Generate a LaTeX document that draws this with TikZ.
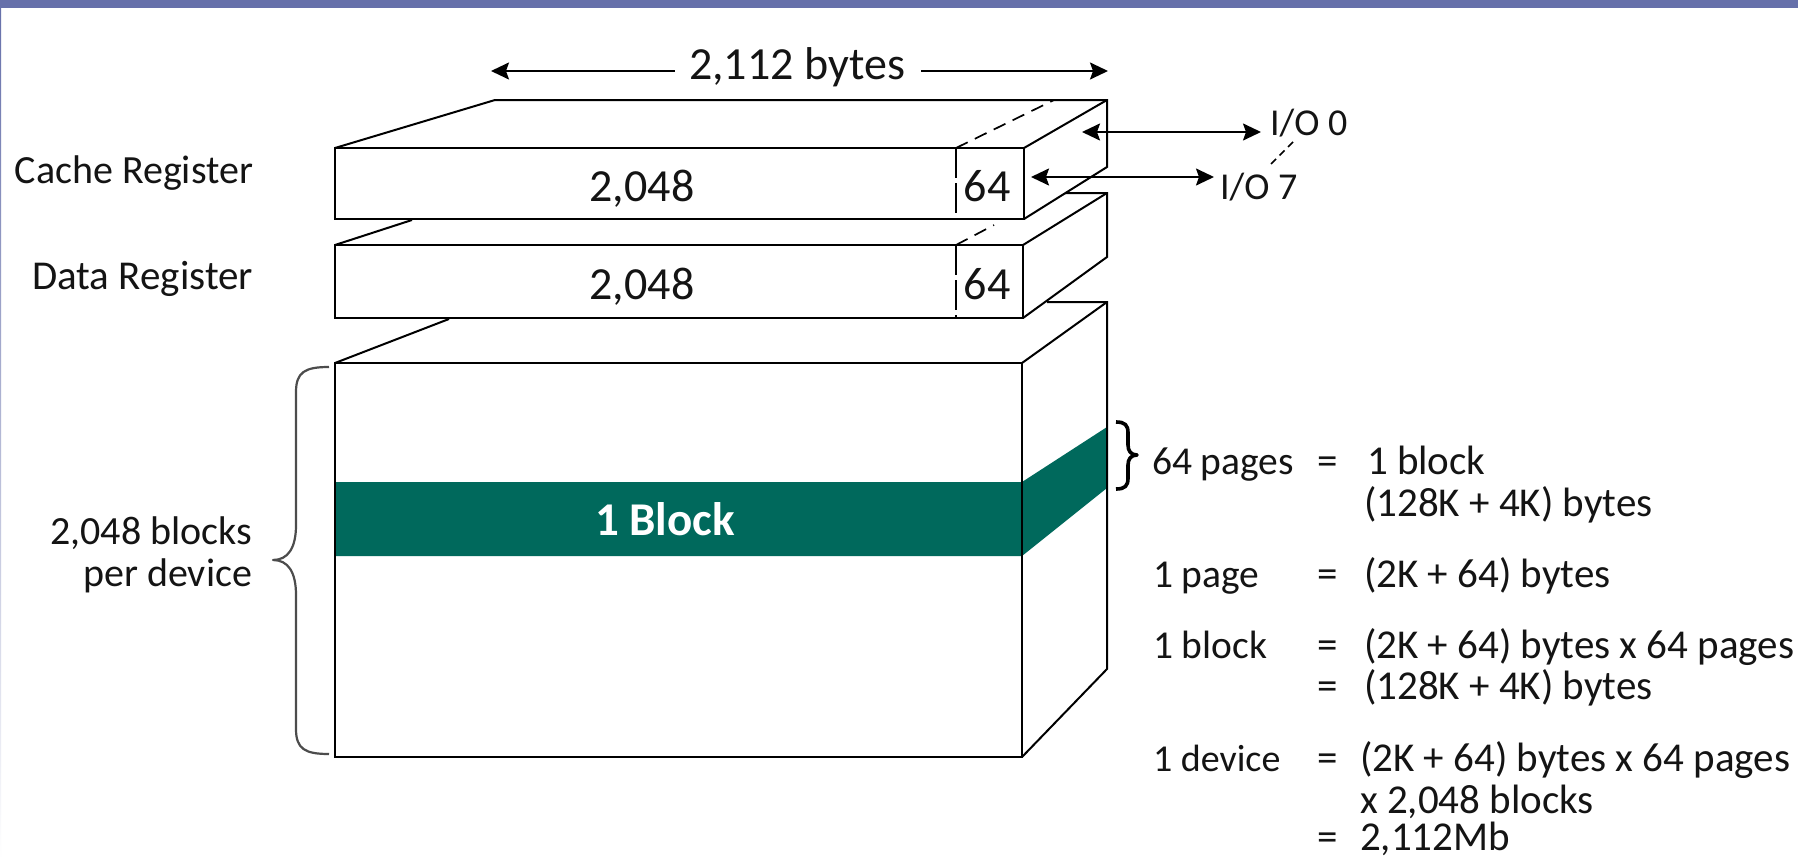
\documentclass[tikz,border=0pt]{standalone}
\usepackage{fontspec}
\setmainfont{Carlito}
\usetikzlibrary{arrows.meta,calc}
\definecolor{barblue}{RGB}{102,112,170}
\definecolor{blockgreen}{RGB}{0,105,92}
\definecolor{inkc}{RGB}{20,20,20}
\tikzset{
  lbl/.style={inner sep=0pt,outer sep=0pt,anchor=base west,text=inkc,font=\fontsize{41}{41}\selectfont},
  term/.style={lbl,font=\fontsize{39.5}{39.5}\selectfont},
  lblr/.style={lbl,anchor=base east,font=\fontsize{40}{40}\selectfont},
  lblc/.style={lbl,anchor=base,font=\fontsize{46}{46}\selectfont},
  iolbl/.style={lbl,font=\fontsize{38}{38}\selectfont},
  edge/.style={draw=black,line width=2pt,line join=miter},
  thin edge/.style={draw=black,line width=1.7pt},
  dash edge/.style={draw=black,line width=1.7pt,dash pattern=on 13pt off 8pt},
  long dash/.style={draw=black,line width=1.5pt,dash pattern=on 30pt off 5pt},
  tipk/.tip={Stealth[length=18pt,width=17pt,inset=3pt]},
  dbl/.style={draw=black,line width=2pt,tipk-tipk}
}
\begin{document}
\begin{tikzpicture}[x=1pt,y=-1pt]
\useasboundingbox (0,0) rectangle (1798,859);
\fill[white] (0,0) rectangle (1798,859);
\fill[barblue] (0,0) rectangle (1798,8);
\shade[top color=barblue,bottom color=white] (0,8) rectangle (1.2,859);

% corner coordinates
\coordinate (cTL) at (335,148); \coordinate (cTR) at (1024,148);
\coordinate (cBL) at (335,219); \coordinate (cBR) at (1024,219);
\coordinate (cBkL) at (495,100); \coordinate (cBkR) at (1107,100);
\coordinate (cSB) at (1107,167);
\coordinate (cDa) at (956,148); \coordinate (cDb) at (956,219); \coordinate (cDc) at (1054,100);

\coordinate (dTL) at (335,245); \coordinate (dTR) at (1023,245);
\coordinate (dBL) at (335,318); \coordinate (dBR) at (1023,318);
\coordinate (dBkL) at (412,220); \coordinate (dBkM) at (1065,193); \coordinate (dBkR) at (1107,193);
\coordinate (dSB) at (1107,257);
\coordinate (dDa) at (956,245); \coordinate (dDb) at (956,318); \coordinate (dDc) at (994,225);

\coordinate (mTL) at (335,363); \coordinate (mTR) at (1022,363);
\coordinate (mBL) at (335,757); \coordinate (mBR) at (1022,757);
\coordinate (mBkL) at (449,319); \coordinate (mBkM) at (1047,302); \coordinate (mBkR) at (1107,302);
\coordinate (mSB) at (1107,669);

\coordinate (gTL) at (335,482); \coordinate (gTR) at (1022,482);
\coordinate (gBL) at (335,556); \coordinate (gBR) at (1022,556);
\coordinate (gBkT) at (1107,427); \coordinate (gBkB) at (1107,488);

% green block
\fill[blockgreen] (gTL) -- (gTR) -- (gBkT) -- (gBkB) -- (gBR) -- (gBL) -- cycle;

% cache register
\draw[edge] (cBL) -- (cTL) -- (cTR) -- (cBR) -- cycle;
\draw[edge] (cTL) -- (cBkL) -- (cBkR) -- (cSB) -- (cBR);
\draw[edge] (cTR) -- (cBkR);
\draw[long dash] (cDa) -- (cDb);
\draw[dash edge] (cDa) -- (cDc);

% data register
\draw[edge] (dBL) -- (dTL) -- (dTR) -- (dBR) -- cycle;
\draw[edge] (dTL) -- (dBkL);
\draw[edge] (dBkM) -- (dBkR) -- (dSB) -- (dBR);
\draw[edge] (dTR) -- (dBkR);
\draw[long dash] (dDa) -- (dDb);
\draw[dash edge] (dDa) -- (dDc);

% memory array
\draw[edge] (mBL) -- (mTL) -- (mTR) -- (mBR) -- cycle;
\draw[edge] (mTL) -- (mBkL);
\draw[edge] (mBkM) -- (mBkR) -- (mSB) -- (mBR);
\draw[edge] (mTR) -- (mBkR);

% labels
\node[lblr] (cacheL) at (253,183) {Cache Register};
\node[lblr,font=\fontsize{41}{41}\selectfont] (dataL) at (253,289) {Data Register};
\node[lblc] (widthL) at (797,79) {2,112 bytes};
\node[lblc] (c2048) at (642,201) {2,048};
\node[lblc] (c64) at (987,201) {64};
\node[lblc] (d2048) at (642,299) {2,048};
\node[lblc] (d64) at (987,299) {64};
\node[iolbl] (ioA) at (1270,135) {I/O 0};
\node[iolbl] (ioB) at (1220,199) {I/O 7};
\node[lblc,text=white,font=\fontsize{47}{47}\selectfont\bfseries] (blk) at (665,535) {1 Block};
\node[lblr] (blocksA) at (252,544) {2,048 blocks};
\node[lblr] (blocksB) at (252,586) {per device};

\node[term] (t1) at (1152,474) {64 pages};
\node[lbl] (e1) at (1317,474) {=};
\node[lbl] (r1) at (1367,474) {1 block};
\node[lbl] (r1b) at (1364,516) {(128K + 4K) bytes};
\node[term] (t2) at (1153,587) {1 page};
\node[lbl] (e2) at (1317,587) {=};
\node[lbl] (r2) at (1364,587) {(2K + 64) bytes};
\node[term] (t3) at (1153,658) {1 block};
\node[lbl] (e3) at (1317,658) {=};
\node[lbl] (r3) at (1364,658) {(2K + 64) bytes x 64 pages};
\node[lbl] (e3b) at (1317,699) {=};
\node[lbl] (r3b) at (1364,699) {(128K + 4K) bytes};
\node[term,font=\fontsize{38}{38}\selectfont] (t4) at (1153,771) {1 device};
\node[lbl] (e4) at (1317,771) {=};
\node[lbl] (r4) at (1360,771) {(2K + 64) bytes x 64 pages};
\node[lbl] (r4b) at (1360,813) {x 2,048 blocks};
\node[lbl] (e4b) at (1317,850) {=};
\node[lbl] (r4c) at (1360,850) {2,112Mb};

% dimension arrow
\coordinate (wL) at (491,71); \coordinate (wR) at (1108,71);
\coordinate (wLe) at (675,71); \coordinate (wRs) at (921,71);
\draw[edge,tipk-] (wL) -- (wLe);
\draw[edge,-tipk] (wRs) -- (wR);

% I/O arrows
\coordinate (ioAa) at (1082,132); \coordinate (ioAb) at (1261,132);
\coordinate (ioBa) at (1031,177); \coordinate (ioBb) at (1214,177);
\draw[dbl] (ioAa) -- (ioAb);
\draw[dbl] (ioBa) -- (ioBb);
\coordinate (ioDa) at (1293,142); \coordinate (ioDb) at (1268,167);
\draw[thin edge,dash pattern=on 7pt off 5pt] (ioDa) -- (ioDb);

% braces
\coordinate (lbT) at (329,367); \coordinate (lbB) at (329,754);
\draw[draw=black!70,line width=2.2pt,line join=round] (lbT) .. controls (305,367) and (296,372) .. (296,392)
  -- (296,525) .. controls (296,548) and (288,560) .. (273,560)
  .. controls (288,560) and (296,572) .. (296,595)
  -- (296,729) .. controls (296,749) and (305,754) .. (lbB);
\coordinate (rbT) at (1116,422); \coordinate (rbB) at (1116,489);
\draw[draw=black,line width=3.6pt,line join=round] (rbT) .. controls (1125,422) and (1128,425) .. (1128,433)
  -- (1128,445) .. controls (1128,451) and (1131,455) .. (1137,455)
  .. controls (1131,455) and (1128,459) .. (1128,465)
  -- (1128,478) .. controls (1128,486) and (1125,489) .. (rbB);
\end{tikzpicture}
\end{document}
